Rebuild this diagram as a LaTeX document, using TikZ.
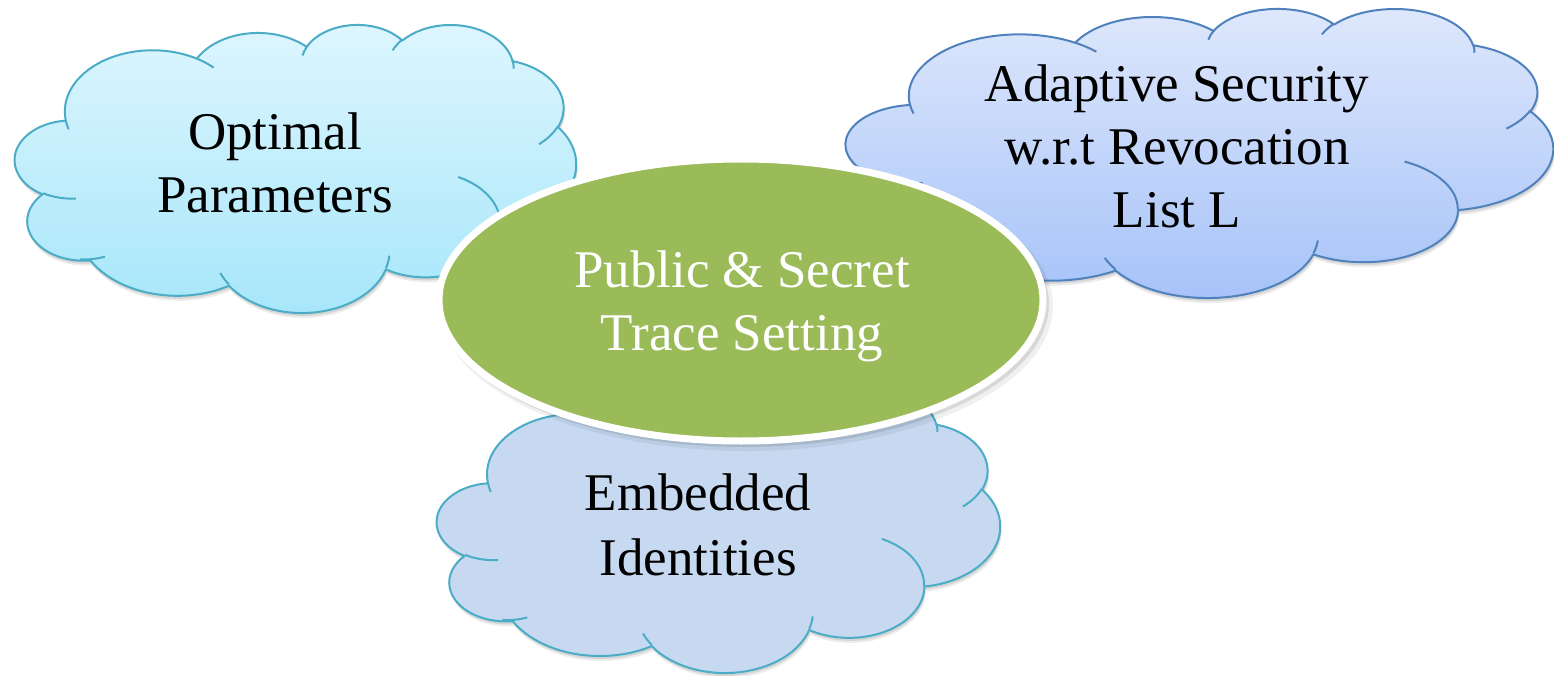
\documentclass[tikz,border=0pt]{standalone}
\usepackage{fontspec}
\setmainfont{Liberation Serif}
\usetikzlibrary{shapes.geometric}

\definecolor{aquaLine}{HTML}{4BACC6}
\definecolor{blueLine}{HTML}{4F81BD}
\definecolor{aquaTop}{HTML}{DEF6FE}
\definecolor{aquaBot}{HTML}{A6E6FA}
\definecolor{blueTop}{HTML}{DFE8FC}
\definecolor{blueBot}{HTML}{A5C2F8}
\definecolor{steelFill}{HTML}{C6D9F1}
\definecolor{coreGreen}{HTML}{9BBB59}

% arcs of the office cloud shape: visual angles -> parametric angles
\newcommand\mkarc[5]{%
  \pgfmathsetmacro\tmpa{atan2((#2)*sin(#4),(#3)*cos(#4))}%
  \pgfmathsetmacro\tmpa{\tmpa+360*round(((#4)-\tmpa)/360)}%
  \pgfmathsetmacro\tmpb{atan2((#2)*sin((#4)+(#5)),(#3)*cos((#4)+(#5)))}%
  \pgfmathsetmacro\tmpb{\tmpb+360*round(((#4)+(#5)-\tmpb)/360)}%
  \expandafter\xdef\csname CL#1\endcsname{arc[start angle=\tmpa, end angle=\tmpb, x radius=#2, y radius=#3]}%
}
\mkarc{oA}{6.753}{9.190}{-190.4875}{123.7805}
\mkarc{oB}{5.333}{7.267}{-144.1024}{89.9452}
\mkarc{oC}{4.365}{5.945}{-145.8079}{99.7230}
\mkarc{oD}{4.857}{6.595}{-130.9861}{117.2417}
\mkarc{oE}{5.333}{7.273}{-78.7089}{109.0269}
\mkarc{oF}{6.775}{9.220}{-46.2673}{130.2690}
\mkarc{oG}{5.785}{7.867}{0.6250}{114.0333}
\mkarc{oH}{6.752}{9.215}{22.4516}{115.1726}
\mkarc{oI}{7.720}{10.543}{66.2426}{75.7110}
\mkarc{oJ}{4.360}{5.918}{-274.9421}{146.7356}
\mkarc{oK}{4.345}{5.945}{-246.8285}{152.5189}
\mkarc{cA}{4.345}{5.945}{86.7420}{26.4295}
\mkarc{cB}{4.360}{5.918}{73.6105}{19.4801}
\mkarc{cC}{6.752}{9.215}{137.6242}{14.0811}
\mkarc{cD}{6.752}{9.215}{6.4533}{15.9984}
\mkarc{cE}{5.785}{7.867}{-70.2924}{70.9174}
\mkarc{cF}{5.333}{7.273}{30.3180}{27.7515}
\mkarc{cG}{4.857}{6.595}{-13.7443}{14.8589}
\mkarc{cH}{4.857}{6.595}{-149.1815}{18.1954}
\mkarc{cI}{4.365}{5.945}{-163.4943}{17.6864}
\mkarc{cJ}{6.753}{9.190}{-66.7070}{12.3194}
\mkarc{cK}{6.753}{9.190}{157.6544}{11.8582}

\newcommand\cloudoutline{(3.900,14.370) \CLoA \CLoB \CLoC \CLoD \CLoE \CLoF \CLoG \CLoH \CLoI \CLoJ \CLoK -- cycle}
\newcommand\cloudcreases{(4.693,26.177) \CLcA (6.928,34.899) \CLcB (16.478,39.090) \CLcC
  (28.827,34.751) \CLcD (34.129,22.954) \CLcE (41.798,15.354) \CLcF (38.324,5.426) \CLcG
  (29.078,3.952) \CLcH (22.141,4.720) \CLcI (14.000,5.192) \CLcJ (4.127,15.789) \CLcK}

% #1 left, #2 top, #3 width, #4 height, #5 fill style, #6 line colour
\newcommand\drawcloud[6]{%
  \pgfmathsetmacro\cux{#3/43.2}\pgfmathsetmacro\cuy{#4/43.2}%
  \begin{scope}[shift={(#1pt,-#2pt)}, x=\cux pt, y=-\cuy pt]
    \fill[black, opacity=0.07, xshift=1.5pt, yshift=-5pt] \cloudoutline;
    \fill[black, opacity=0.10, xshift=1pt, yshift=-3pt] \cloudoutline;
    \path[#5, draw=#6, cloudline] \cloudoutline;
    \draw[#6, cloudline] \cloudcreases;
  \end{scope}}

\tikzset{
  cloudline/.style={line width=2pt, line join=round},
  lbl/.style={font=\fontsize{53}{63}\selectfont, align=center, anchor=base, inner sep=0pt, text=black},
  corelbl/.style={lbl, text=white},
  core/.style={ellipse, draw=white, line width=7pt, fill=coreGreen, inner sep=0pt,
    minimum width=604pt, minimum height=282pt}
}

\begin{document}
\begin{tikzpicture}[x=1pt, y=-1pt]
\useasboundingbox (0,0) rectangle (1554,676);

% clouds
\drawcloud{15}{24}{561}{288}{top color=aquaTop, bottom color=aquaBot}{aquaLine}
\drawcloud{846}{8}{707}{289}{top color=blueTop, bottom color=blueBot}{blueLine}
\drawcloud{437}{388}{563}{284}{fill=steelFill}{aquaLine}

% central ellipse with shadow
\fill[black, opacity=0.06] (746,306) ellipse [x radius=307, y radius=145];
\fill[black, opacity=0.10] (744,304) ellipse [x radius=305, y radius=143];
\node[core] (core) at (741,300) {};

% labels (anchor base = baseline of the last line)
\node[lbl] (optimal) at (275,213) {Optimal\\Parameters};
\node[lbl] (adaptive) at (1177,228) {Adaptive Security\\w.r.t Revocation\\List L};
\node[lbl, font=\fontsize{53}{65}\selectfont] (embedded) at (698,575) {Embedded\\Identities};
\node[corelbl] (coretext) at (742,350) {Public \& Secret\\Trace Setting};
\end{tikzpicture}
\end{document}
